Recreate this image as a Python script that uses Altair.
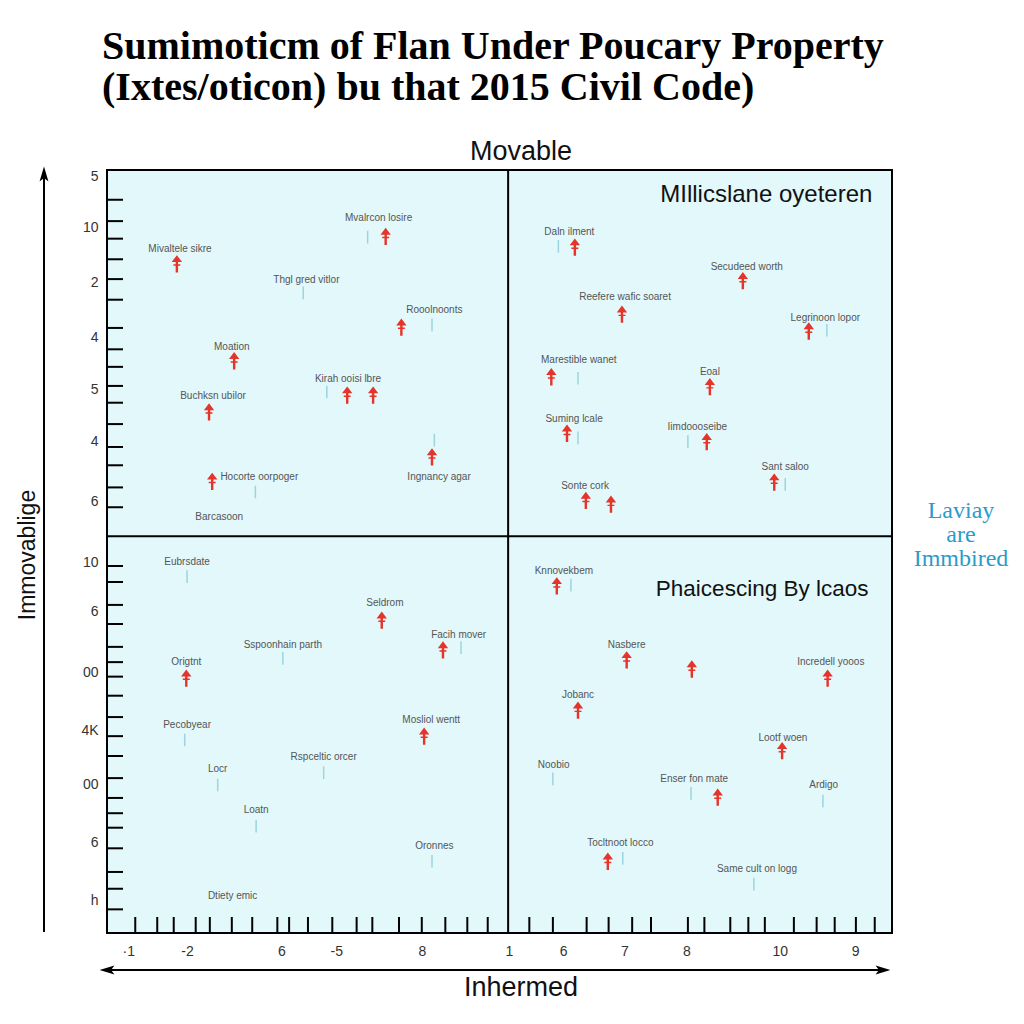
import altair as alt
import pandas as pd

# ---------------- data ----------------
# text labels of the items (centre positions, chart units 0-100)
label_text = [
    "Mvalrcon losire", "Mivaltele sikre", "Thgl gred vitlor", "Rooolnoonts", "Moation",
    "Kirah ooisi lbre", "Buchksn ubilor", "Hocorte oorpoger", "Ingnancy agar", "Barcasoon",
    "Daln ilment", "Secudeed worth", "Reefere wafic soaret", "Legrinoon lopor", "Marestible wanet",
    "Eoal", "Suming lcale", "Iimdoooseibe", "Sant saloo", "Sonte cork",
    "Eubrsdate", "Seldrom", "Sspoonhain parth", "Facih mover", "Origtnt",
    "Pecobyear", "Mosliol wentt", "Rspceltic orcer", "Locr", "Loatn",
    "Oronnes", "Dtiety emic",
    "Knnovekbem", "Nasbere", "Jobanc", "Incredell yooos", "Lootf woen",
    "Noobio", "Enser fon mate", "Ardigo", "Tocltnoot locco", "Same cult on logg",
]
label_x = [
    34.6, 9.3, 25.4, 41.7, 15.9, 30.7, 13.5, 19.4, 42.3, 14.3,
    58.9, 81.5, 66.0, 91.5, 60.1, 76.8, 59.5, 75.2, 86.4, 60.9,
    10.2, 35.4, 22.4, 44.8, 10.1, 10.2, 41.3, 27.6, 14.1, 19.0,
    41.7, 16.0,
    58.2, 66.2, 60.0, 92.2, 86.1, 56.9, 74.8, 91.3, 65.4, 82.8,
]
label_y = [
    93.7, 89.6, 85.6, 81.7, 76.8, 72.6, 70.4, 59.8, 59.8, 54.5,
    91.9, 87.3, 83.4, 80.6, 75.1, 73.5, 67.4, 66.3, 61.1, 58.6,
    48.6, 43.3, 37.7, 39.1, 35.5, 27.3, 27.9, 23.1, 21.5, 16.1,
    11.4, 4.8,
    47.4, 37.7, 31.2, 35.5, 25.6, 22.0, 20.2, 19.4, 11.8, 8.4,
]

# red "up" arrows
up_x = [35.5, 8.9, 37.5, 16.2, 30.6, 33.9, 13.0, 41.4, 13.4,
        59.6, 81.0, 65.6, 89.4, 56.6, 76.8, 58.6, 76.4, 85.0, 61.0, 64.2,
        35.0, 42.8, 10.1, 40.4,
        57.3, 66.2, 74.5, 91.8, 60.0, 86.0, 77.8, 63.8]
up_y = [91.3, 87.7, 79.4, 75.0, 70.5, 70.5, 68.3, 62.4, 59.2,
        89.9, 85.5, 81.1, 78.9, 72.9, 71.6, 65.5, 64.4, 59.1, 56.7, 56.2,
        41.0, 37.1, 33.4, 25.8,
        45.5, 35.8, 34.6, 33.4, 29.2, 23.9, 17.8, 9.4]

# faint blue "down" markers
down_x = [33.2, 25.0, 41.4, 28.0, 41.7, 18.9,
          57.5, 91.7, 60.0, 60.0, 74.0, 86.4,
          10.2, 22.4, 45.1, 9.9, 27.6, 14.1, 19.0, 41.4,
          59.1, 56.8, 74.4, 91.2, 65.7, 82.4]
down_y = [91.2, 83.9, 79.7, 70.9, 64.6, 57.8,
          90.0, 79.0, 72.7, 64.9, 64.4, 58.8,
          46.7, 36.0, 37.4, 25.3, 21.0, 19.4, 14.0, 9.4,
          45.6, 20.2, 18.3, 17.3, 9.8, 6.4]

# quadrant captions
quad_text = ["MIllicslane oyeteren", "Phaicescing By lcaos"]
quad_x = [97.5, 97.0]
quad_y = [96.7, 45.1]

# quadrant dividers
divider_x = [51.1]
divider_y = [52.0]

# axis tick labels
x_label_pos = [2.7, 10.2, 22.2, 29.2, 40.1, 51.2, 58.1, 65.9, 73.8, 85.7, 95.3]
x_label_txt = ["·1", "-2", "6", "-5", "8", "1", "6", "7", "8", "10", "9"]
y_label_pos = [99.2, 92.4, 85.2, 78.0, 71.2, 64.4, 56.6, 48.6, 42.1, 34.1, 26.6, 19.4, 11.8, 4.3]
y_label_txt = ["5", "10", "2", "4", "5", "4", "6", "10", "6", "00", "4K", "00", "6", "h"]

# minor tick marks along the edges
x_ticks = [3.6, 6.4, 8.5, 11.3, 13.1, 15.9, 18.5, 21.7, 23.2, 25.6, 28.7, 31.8, 33.8, 37.2,
           40.1, 43.1, 45.9, 48.5, 53.8, 56.8, 61.1, 63.9, 66.9, 69.3, 74.0, 76.1, 79.4,
           81.7, 83.8, 87.5, 90.4, 92.7, 95.4, 97.8]
y_ticks = [96.1, 93.3, 91.0, 88.3, 85.7, 83.0, 79.3, 76.5, 74.2, 71.7, 69.5, 66.7, 63.7,
           61.3, 58.4, 55.8, 48.1, 46.0, 43.0, 40.5, 37.5, 35.5, 33.6, 31.1, 28.3, 25.8,
           23.2, 20.3, 17.7, 15.7, 13.8, 11.1, 8.0, 5.8, 3.1]

title_lines = ["Sumimoticm of Flan Under Poucary Property",
               "(Ixtes/oticon) bu that 2015 Civil Code)"]
side_lines = ["Laviay", "are", "Immbired"]

# ---------------- chart ----------------
W, H = 785, 763
xs = alt.Scale(domain=[0, 100], nice=False, zero=False)
ys = alt.Scale(domain=[0, 100], nice=False, zero=False)


def js_list(v):
    return "[" + ",".join(repr(s) if isinstance(s, str) else str(s) for s in v) + "]"


x_axis = alt.Axis(values=x_label_pos, domain=False, ticks=False, grid=False, title=None,
                  labelExpr=f"{js_list(x_label_txt)}[indexof({js_list(x_label_pos)}, datum.value)]",
                  labelFont="Liberation Sans", labelFontSize=14, labelColor="#333333",
                  labelPadding=11, labelFlush=False, labelOverlap=False)
y_axis = alt.Axis(values=y_label_pos, domain=False, ticks=False, grid=False, title=None,
                  labelExpr=f"{js_list(y_label_txt)}[indexof({js_list(y_label_pos)}, datum.value)]",
                  labelFont="Liberation Sans", labelFontSize=14, labelColor="#333333",
                  labelPadding=9, labelFlush=False, labelOverlap=False)


def X(f):
    return alt.X(f, type="quantitative", scale=xs, axis=x_axis)


def Y(f):
    return alt.Y(f, type="quantitative", scale=ys, axis=y_axis)


one = alt.Data(values=[{}])

xt = alt.Chart(pd.DataFrame({"x": x_ticks})).mark_rule(color="black", strokeWidth=2).encode(
    x=X("x"), y=alt.value(H), y2=alt.value(H - 16))
yt = alt.Chart(pd.DataFrame({"y": y_ticks})).mark_rule(color="black", strokeWidth=2).encode(
    y=Y("y"), x=alt.value(0), x2=alt.value(16))

vdiv = alt.Chart(pd.DataFrame({"x": divider_x})).mark_rule(color="black", strokeWidth=2).encode(x=X("x"))
hdiv = alt.Chart(pd.DataFrame({"y": divider_y})).mark_rule(color="black", strokeWidth=2).encode(y=Y("y"))

down = alt.Chart(pd.DataFrame({"x": down_x, "y": down_y})).mark_point(
    shape="M0,-1L0,1", size=160, filled=False, stroke="#9dd4df", strokeWidth=1.5, opacity=1
).encode(x=X("x"), y=Y("y"))

arrow_path = ("M0,-1L0.6,-0.2L0.14,-0.2L0.14,0.05L0.4,0.05L0.4,0.22L0.14,0.22L0.14,1"
              "L-0.14,1L-0.14,0.22L-0.4,0.22L-0.4,0.05L-0.14,0.05L-0.14,-0.2L-0.6,-0.2Z")
up = alt.Chart(pd.DataFrame({"x": up_x, "y": up_y})).mark_point(
    shape=arrow_path, size=300, filled=True, color="#e5352b", opacity=1
).encode(x=X("x"), y=Y("y"))

labels = alt.Chart(pd.DataFrame({"t": label_text, "x": label_x, "y": label_y})).mark_text(
    font="Liberation Sans", fontSize=10, color="#555555", baseline="middle"
).encode(x=X("x"), y=Y("y"), text="t:N")

quads = alt.Chart(pd.DataFrame({"t": quad_text, "x": quad_x, "y": quad_y, "s": [24, 22.5]})).mark_text(
    font="Liberation Sans", color="#111111", align="right", baseline="middle"
).encode(x=X("x"), y=Y("y"), text="t:N", size=alt.Size("s:Q", scale=None, legend=None))

# annotations outside the plot area (pixel values relative to plot origin)
t1 = alt.Chart(one).mark_text(font="Liberation Serif", fontWeight="bold", fontSize=40,
                              color="black", align="left", baseline="alphabetic").encode(
    x=alt.value(-5), y=alt.value(-111), text=alt.value(title_lines[0]))
t2 = alt.Chart(one).mark_text(font="Liberation Serif", fontWeight="bold", fontSize=40,
                              color="black", align="left", baseline="alphabetic").encode(
    x=alt.value(-5), y=alt.value(-70), text=alt.value(title_lines[1]))
top_lab = alt.Chart(one).mark_text(font="Liberation Sans", fontSize=27, color="#111111",
                                   baseline="middle").encode(
    x=alt.value(414), y=alt.value(-18), text=alt.value("Movable"))
bot_lab = alt.Chart(one).mark_text(font="Liberation Sans", fontSize=27, color="#111111",
                                   baseline="middle").encode(
    x=alt.value(414), y=alt.value(818), text=alt.value("Inhermed"))
left_lab = alt.Chart(one).mark_text(font="Liberation Sans", fontSize=23, color="#111111",
                                    baseline="middle", angle=270).encode(
    x=alt.value(-79), y=alt.value(385), text=alt.value("Immovablige"))
side = [alt.Chart(one).mark_text(font="Liberation Serif", fontSize=24, color="#2a9ccb",
                                 baseline="alphabetic").encode(
    x=alt.value(854), y=alt.value(348 + 24 * i), text=alt.value(s)) for i, s in enumerate(side_lines)]

# axis arrows
v_line = alt.Chart(one).mark_rule(color="black", strokeWidth=2).encode(
    x=alt.value(-63), y=alt.value(762), y2=alt.value(2))
v_head = alt.Chart(one).mark_point(shape="M0,-1L0.6,1L0,0.55L-0.6,1Z", size=220, filled=True,
                                   color="black", opacity=1).encode(
    x=alt.value(-63), y=alt.value(4))
h_line = alt.Chart(one).mark_rule(color="black", strokeWidth=2).encode(
    x=alt.value(0), x2=alt.value(776), y=alt.value(800))
h_left = alt.Chart(one).mark_point(shape="M-1,0L1,-0.6L0.55,0L1,0.6Z", size=220, filled=True,
                                   color="black", opacity=1).encode(
    x=alt.value(0), y=alt.value(800))
h_right = alt.Chart(one).mark_point(shape="M1,0L-1,-0.6L-0.55,0L-1,0.6Z", size=220, filled=True,
                                    color="black", opacity=1).encode(
    x=alt.value(776), y=alt.value(800))

chart = alt.layer(
    xt, yt, vdiv, hdiv, down, up, labels, quads,
    t1, t2, top_lab, bot_lab, left_lab, *side,
    v_line, v_head, h_line, h_left, h_right,
).properties(
    width=W, height=H,
    autosize=alt.AutoSizeParams(type="none"),
    padding={"left": 107, "top": 170, "right": 132, "bottom": 91},
    background="white",
).configure_view(
    stroke="black", strokeWidth=2, fill="#e2f8fb"
)

chart.save("out.html", embed_options={"renderer": "svg", "actions": False})
